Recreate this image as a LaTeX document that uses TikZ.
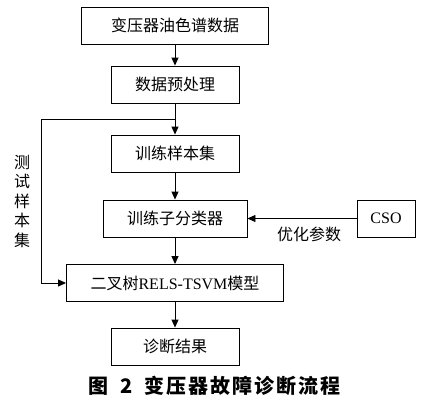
\documentclass[tikz,border=0pt]{standalone}
\usepackage{fontspec}
\setmainfont{Noto Sans CJK SC}
\newfontfamily\lat{Liberation Serif}
\newfontfamily\piefont{Noto Sans CJK SC}[LetterSpace=10]
\usetikzlibrary{arrows.meta}
\usetikzlibrary{calc}

\begin{document}
\begin{tikzpicture}[
    x=1pt, y=-1pt,
    >={Triangle[length=8pt,width=7pt]},
    % Estilo para las cajas del flujo
    Caja/.style={
        draw=black,
        line width=0.9pt,
        minimum height=37pt,
        inner sep=0pt,
        font=\fontsize{16}{18}\selectfont
    },
    % Estilo para las flechas
    Flecha/.style={
        draw=black,
        line width=0.9pt,
        ->
    }
]
    \useasboundingbox (0,0) rectangle (428,410);

    % --- 1. CAJAS PRINCIPALES ---
    \node[Caja, minimum width=187pt] (datos)     at (175,25.5)  {变压器油色谱数据};
    \node[Caja, minimum width=128pt] (preproc)   at (175,84.5)  {数据预处理};
    \node[Caja, minimum width=128pt] (entreno)   at (175,153.5) {训练样本集};
    \node[Caja, minimum width=144pt] (subclas)   at (175,218.5) {训练子分类器};
    \node[Caja, minimum width=58pt]  (cso)       at (386,218.5) {\lat CSO};
    \node[Caja, minimum width=217pt] (modelo)    at (175,283)   {二叉树{\lat RELS-TSVM}模型};
    \node[Caja, minimum width=128pt] (resultado) at (175,346.5) {诊断结果};

    % --- 2. FLECHAS DEL FLUJO ---
    \draw[Flecha] (datos) -- (preproc);
    \draw[Flecha] (preproc) -- (entreno);
    \draw[Flecha] (entreno) -- (subclas);
    \draw[Flecha] (subclas) -- (modelo);
    \draw[Flecha] (modelo) -- (resultado);
    \draw[Flecha] (cso) -- (subclas);

    % Rama de las muestras de prueba
    \coordinate (rama) at ($(preproc.south)!0.5!(entreno.north)$);
    \draw[Flecha] (rama) -- ++(-134,0) |- (modelo.west);

    % --- 3. ETIQUETAS ---
    \node[align=center, inner sep=0pt, font=\fontsize{16}{19.5}\selectfont] (prueba) at (22,201)
        {测\\试\\样\\本\\集};
    \node[inner sep=0pt, font=\fontsize{16}{18}\selectfont] (optim) at (309,234) {优化参数};

    % Pie de figura
    \node[inner sep=0pt, anchor=west, font=\piefont\fontsize{20}{22}\selectfont\bfseries] (pie) at (88,386)
        {图\hspace{12pt}2\hspace{12pt}变压器故障诊断流程};

\end{tikzpicture}
\end{document}
